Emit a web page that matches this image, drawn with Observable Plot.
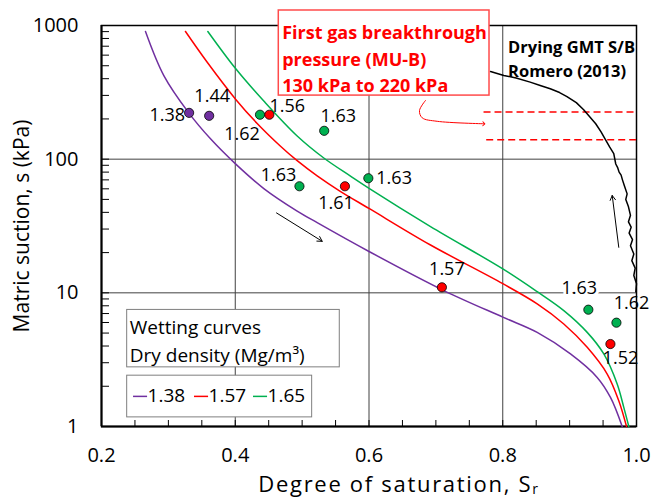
<!DOCTYPE html>
<html><head><meta charset="utf-8">
<script src="https://cdn.jsdelivr.net/npm/d3@7"></script>
<script src="https://cdn.jsdelivr.net/npm/@observablehq/plot@0.6"></script>
<style>body{margin:0;background:#fff} svg{display:block}</style>
</head><body><div id="chart"></div>
<script>
// ---------- data ----------
const curveDensities = ["1.38", "1.57", "1.65"];
const curveColors = ["#7030A0", "#FF0000", "#00B050"];

const wet138Sr = [0.2658, 0.2932, 0.3305, 0.363, 0.4008, 0.4427, 0.4926, 0.5225, 0.6007, 0.7119, 0.8001, 0.8515, 0.9013, 0.9412, 0.9611, 0.9786];
const wet138S  = [902, 422, 222, 142, 91.8, 60.3, 40.9, 33.5, 20.3, 10.4, 6.58, 5.06, 3.49, 2.33, 1.65, 1.0];

const wet157Sr = [0.3256, 0.3581, 0.4008, 0.4328, 0.4677, 0.4926, 0.5225, 0.557, 0.6007, 0.692, 0.8001, 0.8515, 0.8913, 0.9263, 0.9562, 0.9735, 0.9851];
const wet157S  = [902, 531, 280, 185, 125, 97.4, 75, 57.5, 42.6, 22.8, 11.7, 8.27, 5.85, 3.91, 2.47, 1.56, 1.0];

const wet165Sr = [0.359, 0.4008, 0.4427, 0.4926, 0.5324, 0.5723, 0.6007, 0.692, 0.8001, 0.8515, 0.8913, 0.9263, 0.9511, 0.9711, 0.981, 0.9885];
const wet165S  = [902, 474, 272, 149, 102, 74.7, 60.2, 31.3, 15.1, 10.2, 7.36, 5.06, 3.49, 2.08, 1.39, 1.0];

// measured points: degree of saturation, suction, dry density label, series
const pointSr    = [0.331, 0.361, 0.437, 0.451, 0.533, 0.496, 0.564, 0.599, 0.709, 0.928, 0.970, 0.961];
const pointS     = [222, 211, 215, 215, 163, 62.7, 62.7, 72, 11.0, 7.48, 5.98, 4.14];
const pointLabel = ["1.38", "1.44", "1.62", "1.56", "1.63", "1.63", "1.61", "1.63", "1.57", "1.63", "1.62", "1.52"];
const pointGroup = ["1.38", "1.38", "1.65", "1.57", "1.65", "1.65", "1.57", "1.65", "1.57", "1.65", "1.65", "1.57"];

// drying curve (Romero 2013)
const drySr = [0.7817, 0.8016, 0.82, 0.841, 0.856, 0.871, 0.885, 0.896, 0.91, 0.921, 0.93, 0.939, 0.947, 0.954, 0.96, 0.966, 0.969, 0.972, 0.974, 0.977, 0.979, 0.982, 0.986, 0.984, 0.988, 0.991, 0.988, 0.992, 0.989, 0.994, 0.991, 0.996, 0.993, 0.998, 0.996, 1.0, 0.999];
const dryS  = [453, 423, 405, 377, 356, 336, 315, 294, 265, 234, 208, 184, 160, 139, 123, 110, 92, 86, 80, 76, 70, 63, 55, 50, 44, 38, 34, 31, 28, 25, 22.5, 19.5, 17.4, 15.3, 13.5, 11.7, 10.2];

// first gas breakthrough pressure band (kPa)
const breakthroughS = [225, 140];
const breakthroughFromSr = [0.772, 0.776];

// ticks
const xTicks = [0.2, 0.4, 0.6, 0.8, 1.0];
const xMinor = d3.range(0.2, 1.0001, 0.05);
const yTicks = [1, 10, 100, 1000];
const yMinor = [1,2,3,4,5,6,7,8,9].flatMap(m => [m, m*10, m*100]).concat([1000]);

// text
const xTitle = "Degree of saturation, S";
const yTitle = "Matric suction, s (kPa)";
const boxText = "First gas breakthrough\npressure (MU-B)\n130 kPa to 220 kPa";
const dryText = "Drying GMT S/B\nRomero (2013)";
const legendTitle = "Wetting curves\nDry density (Mg/m³)";

// annotation anchors (data space)
const boxCorner = {sr1: 0.4651, sr2: 0.7802, s1: 299, s2: 1295};
const legendBox1 = {sr1: 0.2384, sr2: 0.5563, s1: 2.77, s2: 7.45};
const legendBox2 = {sr1: 0.2384, sr2: 0.515, s1: 1.17, s2: 2.40};
const legendItemSr = [0.2479, 0.3391, 0.4273];
const legendItemS = 1.68;
const arrowBlack = [{sr1: 0.4617, s1: 39.6, sr2: 0.530, s2: 24.3}, {sr1: 0.9735, s1: 21.9, sr2: 0.9637, s2: 53.5}];
const redArrowSr = [0.6845, 0.6755, 0.6795, 0.702, 0.7717];
const redArrowS  = [275, 231, 204, 192, 184];

// ---------- build tables ----------
const wetRows = [
  ...wet138Sr.map((x, i) => ({sr: x, s: wet138S[i], d: "1.38"})),
  ...wet157Sr.map((x, i) => ({sr: x, s: wet157S[i], d: "1.57"})),
  ...wet165Sr.map((x, i) => ({sr: x, s: wet165S[i], d: "1.65"}))
];
const labelStyle = [
  {a: "end", dx: -4, dy: 2}, {a: "middle", dx: 3, dy: -20}, {a: "middle", dx: -18, dy: 20},
  {a: "middle", dx: 18, dy: -8}, {a: "middle", dx: 14, dy: -15}, {a: "middle", dx: -21, dy: -11},
  {a: "middle", dx: -9, dy: 17}, {a: "start", dx: 8, dy: 0}, {a: "middle", dx: 5, dy: -18},
  {a: "middle", dx: -9, dy: -21, halo: true}, {a: "middle", dx: 15, dy: -19}, {a: "middle", dx: 10, dy: 14}
];
const points = pointSr.map((x, i) => ({sr: x, s: pointS[i], label: pointLabel[i], g: pointGroup[i], ...labelStyle[i]}));
const dryRows = drySr.map((x, i) => ({sr: x, s: dryS[i]}));
const redArrowRows = redArrowSr.map((x, i) => ({sr: x, s: redArrowS[i]}));

const FONT = "'Open Sans', Lato, sans-serif";
const labelMarks = points.map(p => Plot.text([p], {
  x: "sr", y: "s", text: "label", textAnchor: p.a, dx: p.dx, dy: p.dy, fontSize: 18, fill: "black",
  ...(p.halo ? {stroke: "white", strokeWidth: 6} : {})
}));

const chart = Plot.plot({
  width: 652, height: 497,
  marginLeft: 101, marginRight: 16, marginTop: 25, marginBottom: 71,
  style: {fontFamily: FONT, color: "black", background: "white", overflow: "visible"},
  x: {domain: [0.2, 1.0]},
  y: {type: "log", domain: [1, 1000]},
  color: {type: "ordinal", domain: curveDensities, range: curveColors},
  marks: [
    Plot.ruleX([0.4, 0.6, 0.8], {stroke: "#404040", strokeWidth: 1}),
    Plot.ruleY([10, 100], {stroke: "#404040", strokeWidth: 1}),
    Plot.tickY(yMinor, {y: d => d, insetRight: 527, stroke: "black", strokeWidth: 1}),
    Plot.tickX(xMinor, {x: d => d, insetTop: 395, stroke: "black", strokeWidth: 1}),
    Plot.frame({stroke: "black", strokeWidth: 1.5}),
    Plot.ruleX([0.2], {stroke: "black", strokeWidth: 2}),
    Plot.ruleY([1], {stroke: "black", strokeWidth: 2}),
    Plot.axisX({ticks: xTicks, tickFormat: d3.format(".1f"), tickSize: 0, tickPadding: 21, fontSize: 20, label: null}),
    Plot.axisY({ticks: yTicks, tickFormat: d => String(d), tickSize: 0, tickPadding: 23, fontSize: 20, label: null}),
    Plot.text([xTitle], {frameAnchor: "bottom", textAnchor: "middle", lineAnchor: "bottom", dx: 30, dy: 65, fontSize: 22}),
    Plot.text([yTitle], {frameAnchor: "left", textAnchor: "middle", lineAnchor: "middle", dx: -79, rotate: -90, fontSize: 21}),
    // drying curve and breakthrough band
    Plot.ruleY(breakthroughS, {y: d => d, x1: (d, i) => breakthroughFromSr[i], x2: 1.0, stroke: "#FF0000", strokeWidth: 1.5, strokeDasharray: "7,4"}),
    Plot.line(dryRows, {x: "sr", y: "s", stroke: "black", strokeWidth: 1.5}),
    // wetting curves
    Plot.line(wetRows, {x: "sr", y: "s", z: "d", stroke: "d", strokeWidth: 1.5, curve: "catmull-rom"}),
    ...labelMarks,
    Plot.dot(points, {x: "sr", y: "s", fill: "g", stroke: "black", strokeWidth: 0.8, r: 4.6}),
    // arrows
    Plot.arrow(arrowBlack, {x1: "sr1", y1: "s1", x2: "sr2", y2: "s2", stroke: "black", strokeWidth: 1, headLength: 8}),
    Plot.line(redArrowRows, {x: "sr", y: "s", stroke: "#FF0000", strokeWidth: 1, curve: "catmull-rom", markerEnd: "arrow"}),
    // drying label
    Plot.text([dryText], {x: () => 0.808, y: () => 827, text: d => d, textAnchor: "start", lineAnchor: "top", fontWeight: "bold", fontSize: 16.5, lineHeight: 1.42}),
    // breakthrough box
    Plot.rect([boxCorner], {x1: "sr1", x2: "sr2", y1: "s1", y2: "s2", fill: "white", stroke: "#FF4B4B", strokeWidth: 1.5}),
    Plot.text([boxText], {x: () => 0.4702, y: () => 1090, text: d => d, textAnchor: "start", lineAnchor: "top", fontWeight: "bold", fontSize: 18, lineHeight: 1.47, fill: "#FF0000"}),
    // legend
    Plot.rect([legendBox1, legendBox2], {x1: "sr1", x2: "sr2", y1: "s1", y2: "s2", fill: "white", stroke: "#7F7F7F", strokeWidth: 1}),
    Plot.text([legendTitle], {x: () => 0.2423, y: () => 5.68, text: d => d, textAnchor: "start", lineAnchor: "middle", fontSize: 19, lineHeight: 1.45, dy: 13.5}),
    Plot.ruleY(curveDensities, {y: () => legendItemS, x1: (d, i) => legendItemSr[i], x2: (d, i) => legendItemSr[i] + 0.021, stroke: d => d, strokeWidth: 1.5}),
    Plot.text(curveDensities, {x: (d, i) => legendItemSr[i] + 0.021, y: () => legendItemS, text: d => d, textAnchor: "start", fontSize: 19})
  ]
});

document.getElementById("chart").appendChild(chart);
// subscript r on the x title, slight tracking like the reference
d3.select(chart).selectAll("text").filter(function () { return this.textContent === xTitle; })
  .attr("letter-spacing", "1.7")
  .append("tspan").attr("dy", "0.15em").attr("font-size", "14").text("r");
</script>
</body></html>
